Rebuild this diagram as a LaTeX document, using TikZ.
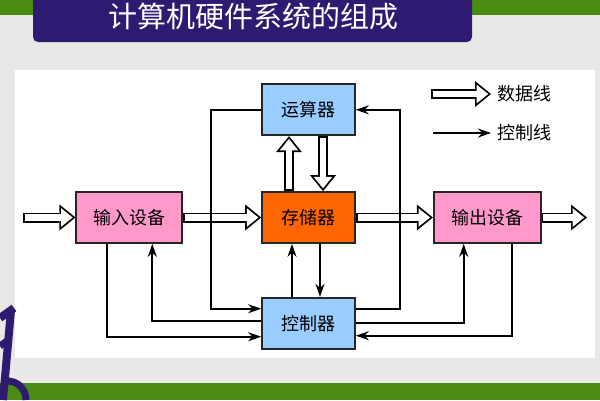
\documentclass[tikz,border=0pt]{standalone}
\usepackage{fontspec}
\newfontfamily\cjk{Noto Sans CJK SC}
\usetikzlibrary{positioning,arrows.meta}
\definecolor{bggray}{HTML}{E8E8E6}
\definecolor{bargreen}{HTML}{4A8C12}
\definecolor{titlepurple}{HTML}{2E1A70}
\definecolor{arithblue}{HTML}{99CCFF}
\definecolor{memorange}{HTML}{FF6600}
\definecolor{iopink}{HTML}{FF99CC}

\begin{document}
\begin{tikzpicture}[x=1pt, y=-1pt,
  unit/.style={draw=black!85, line width=1.7pt, minimum height=51pt, inner sep=0pt, font=\cjk\fontsize{18}{18}\selectfont},
  data/.style={line width=6.6pt, white, shorten <=1.7pt, shorten >=2.8pt,
    -{Triangle[length=11.5pt, width=18.6pt, line width=0pt]},
    preaction={draw, black, line width=10pt, shorten <=0pt, shorten >=0pt,
      -{Triangle[length=16pt, width=26pt, line width=0pt]}}},
  ctl/.style={line width=1.7pt, -{Stealth[length=13pt, width=9pt]}},
  legend/.style={anchor=west, inner sep=6pt, font=\cjk\fontsize{18}{18}\selectfont}
]
\useasboundingbox (0,0) rectangle (600,400);
% background
\fill[bggray] (0,0) rectangle (600,400);
\fill[bargreen] (0,0) rectangle (40,15);
\fill[bargreen] (460,0) rectangle (600,15);
\fill[bargreen] (0,383) rectangle (600,400);
\fill[white] (15,70) rectangle (595,358);
\fill[titlepurple, rounded corners=5pt] (33,-10) rectangle (472,42);
\node[text=white, font=\cjk\fontsize{29}{30}\selectfont] (title) at (253,17) {计算机硬件系统的组成};
% logo fragment
\draw[titlepurple, line width=8pt] (3,400) -- (11,310);
\draw[titlepurple, line width=8pt] (0,318) -- (14,308);
\draw[titlepurple, line width=7pt] (0,346) -- (10,339);
\draw[titlepurple, line width=7pt] (5,381) .. controls (20,380) and (26,392) .. (26,400);

% units
\node[unit, fill=memorange, minimum width=93pt] (mem) at (308.5,217.5) {存储器};
\node[unit, fill=arithblue, minimum width=93pt, above=55pt of mem] (arith) {运算器};
\node[unit, fill=arithblue, minimum width=93pt, below=53pt of mem] (ctrl) {控制器};
\node[unit, fill=iopink, minimum width=106pt, left=78pt of mem] (in) {输入设备};
\node[unit, fill=iopink, minimum width=107pt, right=77pt of mem] (out) {输出设备};
\coordinate (src) at (23,217.5);
\coordinate (dst) at (587,217.5);

% data lines
\draw[data] (src) -- (in.west);
\draw[data] (in.east) -- (mem.west);
\draw[data] (mem.east) -- (out.west);
\draw[data] (out.east) -- (dst);
\draw[data] ([xshift=-19.5pt]mem.north) -- ([xshift=-19.5pt]arith.south);
\draw[data] ([xshift=14.5pt]arith.south) -- ([xshift=14.5pt]mem.north);

% control lines
\draw[ctl] (arith.west) -- ++(-50,0) |- ([yshift=14.5pt]ctrl.west);
\draw[ctl] ([xshift=-22pt]in.south) |- ([yshift=-13.5pt]ctrl.west);
\draw[ctl] ([yshift=2.5pt]ctrl.west) -| ([xshift=23pt]in.south);
\draw[ctl] ([xshift=-16.5pt]ctrl.north) -- ([xshift=-16.5pt]mem.south);
\draw[ctl] ([xshift=11.5pt]mem.south) -- ([xshift=11.5pt]ctrl.north);
\draw[ctl] ([yshift=14.5pt]ctrl.east) -- ++(44,0) |- (arith.east);
\draw[ctl] (ctrl.east) -| ([xshift=-23.5pt]out.south);
\draw[ctl] ([xshift=24.5pt]out.south) |- ([yshift=-12.5pt]ctrl.east);

% legend
\node[legend] (ldata) at (491,94) {数据线};
\node[legend] (lctl) at (491,133) {控制线};
\coordinate (ld) at (431,94);
\coordinate (lc) at (433,133);
\draw[data] (ld) -- (ldata.west);
\draw[ctl] (lc) -- (lctl.west);
\end{tikzpicture}
\end{document}
